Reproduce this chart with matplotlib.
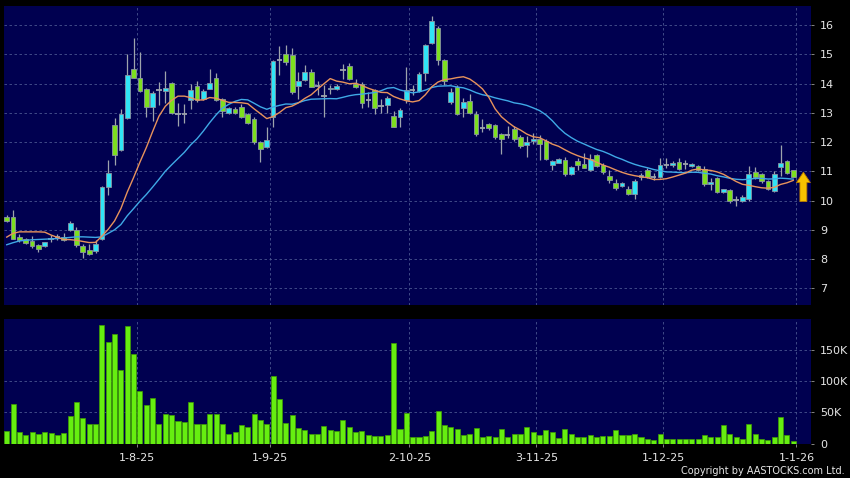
import numpy as np
import pandas as pd
import matplotlib
matplotlib.use("Agg")
import matplotlib.pyplot as plt

# ---------------- data ----------------
opens = [9.45, 9.43, 8.74, 8.70, 8.63, 8.48, 8.46, 8.70, 8.75, 8.75,
         8.98, 8.98, 8.46, 8.32, 8.26, 8.69, 10.48, 12.58, 11.72, 12.83,
         14.50, 14.20, 13.80, 13.20, 13.78, 13.75, 14.02, 12.97, 12.97, 13.42,
         13.92, 13.48, 13.82, 14.20, 13.46, 12.99, 13.12, 13.20, 12.96, 12.78,
         12.00, 11.82, 12.86, 14.80, 15.00, 14.97, 13.90, 14.13, 14.41, 13.92,
         13.58, 13.80, 13.82, 14.45, 14.60, 14.00, 13.98, 13.45, 13.78, 13.24,
         13.25, 12.90, 12.86, 13.45, 13.78, 13.74, 14.35, 15.40, 15.89, 14.80,
         13.37, 13.89, 13.17, 13.40, 12.96, 12.48, 12.60, 12.57, 12.28, 12.25,
         12.46, 12.17, 11.90, 12.02, 12.10, 12.02, 11.20, 11.30, 11.39, 10.91,
         11.34, 11.26, 11.05, 11.54, 11.20, 10.85, 10.59, 10.50, 10.39, 10.22,
         10.79, 11.04, 10.79, 10.80, 11.22, 11.20, 11.31, 11.25, 11.19, 11.17,
         11.08, 10.55, 10.77, 10.30, 10.35, 10.03, 10.00, 10.06, 10.97, 10.91,
         10.66, 10.32, 11.15, 11.34, 11.03]
highs = [9.50, 9.69, 8.85, 8.72, 8.78, 8.50, 8.60, 8.83, 8.85, 8.90,
         9.30, 9.10, 8.50, 8.50, 8.65, 10.50, 11.40, 12.83, 13.12, 15.00,
         15.55, 15.08, 13.85, 13.75, 14.05, 14.43, 14.05, 13.33, 13.30, 14.00,
         14.10, 13.80, 14.50, 14.35, 13.50, 13.20, 13.20, 13.30, 13.00, 12.85,
         12.05, 12.50, 14.80, 15.27, 15.30, 15.20, 14.40, 14.62, 14.50, 14.10,
         13.95, 13.95, 14.00, 14.68, 14.70, 14.15, 14.05, 13.70, 13.82, 13.47,
         13.56, 13.07, 13.15, 14.58, 13.95, 14.40, 15.35, 16.30, 15.95, 14.85,
         13.85, 13.95, 13.50, 13.65, 13.05, 12.80, 12.65, 12.60, 12.30, 12.55,
         12.55, 12.25, 12.20, 12.30, 12.25, 12.10, 11.40, 11.47, 11.50, 11.17,
         11.45, 11.62, 11.60, 11.60, 11.30, 11.05, 10.73, 10.62, 10.50, 10.72,
         10.95, 11.10, 10.95, 11.45, 11.45, 11.35, 11.45, 11.38, 11.30, 11.22,
         11.17, 10.77, 10.80, 10.40, 10.38, 10.14, 10.20, 11.17, 11.15, 10.95,
         10.70, 11.00, 11.90, 11.40, 11.05]
lows = [9.25, 8.68, 8.60, 8.52, 8.38, 8.25, 8.42, 8.60, 8.65, 8.63,
        8.95, 8.42, 8.04, 8.14, 8.20, 8.65, 10.20, 11.21, 11.70, 12.80,
        14.20, 13.70, 12.85, 12.72, 13.26, 13.33, 12.95, 12.55, 12.65, 13.12,
        13.38, 13.45, 13.80, 13.40, 12.85, 12.95, 12.95, 12.82, 12.60, 11.95,
        11.32, 11.80, 12.50, 14.30, 14.65, 13.65, 13.47, 14.10, 13.87, 13.60,
        12.85, 13.65, 13.78, 14.16, 14.12, 13.85, 13.18, 13.20, 12.95, 13.00,
        13.00, 12.50, 12.53, 13.34, 13.60, 13.70, 14.10, 15.35, 14.62, 13.95,
        13.30, 12.93, 12.86, 12.95, 12.22, 12.35, 12.40, 12.10, 11.60, 12.15,
        12.05, 11.80, 11.50, 11.95, 11.40, 11.40, 11.03, 11.28, 10.83, 10.88,
        11.05, 11.10, 11.00, 11.15, 10.90, 10.60, 10.35, 10.45, 10.20, 10.05,
        10.70, 10.78, 10.70, 10.78, 11.10, 11.15, 11.05, 11.08, 11.15, 11.00,
        10.50, 10.37, 10.25, 10.25, 9.92, 9.80, 9.95, 10.00, 10.75, 10.60,
        10.35, 10.30, 10.85, 10.90, 10.80]
closes = [9.30, 8.70, 8.64, 8.56, 8.46, 8.35, 8.58, 8.70, 8.75, 8.66,
          9.24, 8.47, 8.25, 8.18, 8.52, 10.47, 10.95, 11.55, 12.97, 14.29,
          14.20, 13.75, 13.20, 13.68, 13.78, 13.85, 13.00, 12.97, 12.97, 13.77,
          13.42, 13.74, 14.03, 13.44, 13.06, 13.16, 12.98, 12.86, 12.66, 12.00,
          11.76, 12.06, 14.76, 14.80, 14.72, 13.70, 14.08, 14.39, 13.89, 13.92,
          13.58, 13.85, 13.90, 14.45, 14.15, 13.88, 13.32, 13.45, 13.16, 13.24,
          13.50, 12.52, 13.08, 13.79, 13.78, 14.34, 15.31, 16.15, 14.81, 14.09,
          13.72, 12.96, 13.37, 13.00, 12.28, 12.48, 12.47, 12.17, 12.10, 12.25,
          12.12, 11.85, 12.00, 12.10, 11.95, 11.42, 11.34, 11.42, 10.91, 11.14,
          11.22, 11.11, 11.43, 11.17, 10.97, 10.69, 10.42, 10.59, 10.23, 10.67,
          10.86, 10.80, 10.79, 11.20, 11.22, 11.27, 11.08, 11.25, 11.26, 11.06,
          10.55, 10.62, 10.28, 10.38, 10.00, 10.03, 10.12, 10.91, 10.80, 10.68,
          10.40, 10.91, 11.28, 10.94, 10.82]
volumes_k = [20, 64, 19, 13, 18, 14.5, 19, 17, 13.5, 16.7,
             44, 67, 41, 31, 32, 191, 163, 176, 118, 189,
             144, 84, 62, 73, 31, 48, 46, 36, 34, 67,
             31, 31, 47, 47, 31, 15, 18, 29, 27, 47,
             37, 31, 109, 71, 33, 45, 25, 21.5, 16, 16,
             28, 21.5, 20, 37, 26, 19, 20, 14, 12, 12,
             14, 162, 24, 49, 10, 10, 12, 20, 52, 30,
             26, 23, 14, 16, 25, 11, 12, 10, 23, 10,
             14.5, 14.5, 26, 19, 14, 21.5, 18, 8.6, 24, 14.5,
             11, 11, 13.5, 11, 12, 12, 21.5, 14, 14, 16,
             10, 8, 5, 16, 7.5, 7.5, 7.5, 6.5, 7.5, 7.5,
             13.5, 10, 11, 29, 14.5, 11, 8, 31, 14.5, 8,
             5, 11, 43, 13, 4]
# moving-average values before enough history is available
ma10_head = [8.75, 8.88, 8.93, 8.93, 8.93, 8.93, 8.92, 8.82, 8.74]
ma20_head = [8.49, 8.56, 8.62, 8.64, 8.66, 8.67, 8.68, 8.69, 8.70, 8.72,
             8.74, 8.76, 8.76, 8.75, 8.74, 8.76, 8.88, 9.00, 9.18]

month_start_idx = [21, 42, 64, 84, 104, 125]
month_labels = ["1-8-25", "1-9-25", "2-10-25", "3-11-25", "1-12-25", "1-1-26"]
price_ticks = [7, 8, 9, 10, 11, 12, 13, 14, 15, 16]
vol_ticks = [0, 50000, 100000, 150000]
vol_tick_labels = ["0", "50K", "100K", "150K"]

# ---------------- styling ----------------
BG = "#000050"
UP = "#30e4f6"
DOWN = "#7ddf1f"
EDGE = "#8a94a2"
WICK = "#9ea4ac"
MA10_C = "#e8935c"
MA20_C = "#3fa9e6"
VOL_C = "#66ee10"
VOL_E = "#3f9f00"
GRID_C = "#4a5590"
TXT = "#e6e6e6"

o = np.array(opens)
h = np.array(highs)
l = np.array(lows)
c = np.array(closes)
v = np.array(volumes_k) * 1000
n = len(c)
x = np.arange(n)

cs = pd.Series(closes)
ma10 = cs.rolling(10).mean().to_numpy()
ma10[:len(ma10_head)] = ma10_head
ma20 = cs.rolling(20).mean().to_numpy()
ma20[:len(ma20_head)] = ma20_head

fig = plt.figure(figsize=(8.5, 4.78), dpi=100, facecolor="black")
W, H = 850.0, 478.0
ax = fig.add_axes([4 / W, 1 - 305 / H, 807 / W, 299 / H])
axv = fig.add_axes([4 / W, 1 - 443.5 / H, 807 / W, 124.5 / H])

for a in (ax, axv):
    a.set_facecolor(BG)
    for s in a.spines.values():
        s.set_visible(False)
    a.set_axisbelow(True)
    a.grid(True, linestyle=(0, (3, 3)), color=GRID_C, linewidth=0.6)
    a.set_xlim(-0.43, 126.8)
    a.yaxis.tick_right()
    a.tick_params(axis="y", colors=TXT, labelsize=8, length=2.5, width=0.6,
                  pad=4)
    a.tick_params(axis="y", color="#9a9a9a")

# candles
up = c > o
dn = c < o
dj = c == o
ax.vlines(x, l, h, color=WICK, linewidth=0.9, zorder=2)
ax.bar(x[up], (c - o)[up], bottom=o[up], width=0.74, color=UP,
       edgecolor=EDGE, linewidth=0.6, zorder=3)
ax.bar(x[dn], (o - c)[dn], bottom=c[dn], width=0.74, color=DOWN,
       edgecolor=EDGE, linewidth=0.6, zorder=3)
ax.hlines(c[dj], x[dj] - 0.42, x[dj] + 0.42, color=WICK, linewidth=1.3,
          zorder=3)

ax.plot(x, ma20, color=MA20_C, linewidth=1.0, zorder=4)
ax.plot(x, ma10, color=MA10_C, linewidth=1.0, zorder=4)

ax.set_ylim(6.43, 16.65)
ax.set_yticks(price_ticks)
ax.set_yticklabels([str(t) for t in price_ticks])
ax.set_xticks(np.array(month_start_idx) - 0.5)
ax.tick_params(axis="x", length=0, labelbottom=False)

# marker arrow by the last price
ax.annotate("", xy=(125.6, 10.97), xytext=(125.6, 9.97),
            arrowprops=dict(arrowstyle="simple,head_length=0.75,head_width=1.0,tail_width=0.5",
                            fc="#f7c200", ec="#b87a00", lw=0.6,
                            shrinkA=0, shrinkB=0),
            annotation_clip=False, zorder=5)

# volume
axv.bar(x, v, width=0.8, color=VOL_C, edgecolor=VOL_E, linewidth=0.5,
        zorder=3)
axv.set_ylim(0, 200000)
axv.set_yticks(vol_ticks)
axv.set_yticklabels(vol_tick_labels)
axv.set_xticks(np.array(month_start_idx) - 0.5)
axv.set_xticklabels(month_labels)
axv.tick_params(axis="x", colors=TXT, labelsize=8, length=2.5, width=0.6,
                pad=4)
axv.tick_params(axis="x", color="#9a9a9a")

fig.text(845 / W, 1 - 471 / H, "Copyright by AASTOCKS.com Ltd.",
         color=TXT, fontsize=7.0, ha="right", va="center")

fig.savefig("out.png", dpi=100, facecolor="black")
